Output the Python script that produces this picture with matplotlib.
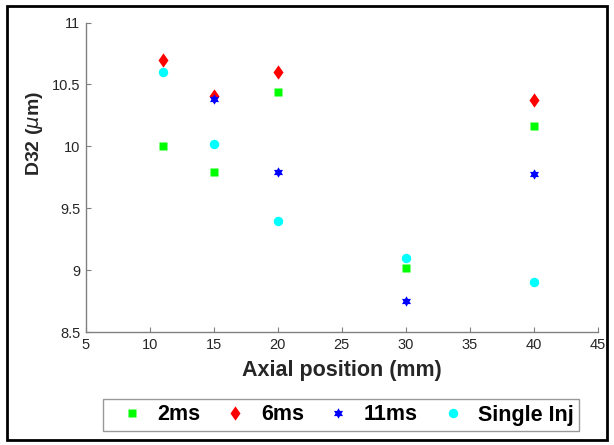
import numpy as np
import matplotlib
matplotlib.use("Agg")
import matplotlib.pyplot as plt
from matplotlib.path import Path
from matplotlib.patches import Rectangle

plt.rcParams['font.family'] = ['Liberation Sans', 'DejaVu Sans']
plt.rcParams['mathtext.fontset'] = 'dejavusans'

# D32 droplet diameter vs axial position, per injection strategy
x_2ms = [11, 15, 20, 30, 40]
d32_2ms = [10.00, 9.79, 10.44, 9.02, 10.16]

x_6ms = [11, 15, 20, 40]
d32_6ms = [10.70, 10.41, 10.60, 10.37]

x_11ms = [15, 20, 30, 40]
d32_11ms = [10.38, 9.79, 8.75, 9.78]

x_single = [11, 15, 20, 30, 40]
d32_single = [10.60, 10.02, 9.40, 9.10, 8.90]

series_labels = ['2ms', '6ms', '11ms', 'Single Inj']
x_ticks = [5, 10, 15, 20, 25, 30, 35, 40, 45]
y_ticks = [8.5, 9, 9.5, 10, 10.5, 11]

# six-pointed star (hexagram) marker
ang_out = np.deg2rad(90 + np.arange(6) * 60)
ang_in = ang_out + np.deg2rad(30)
r_in = 1 / np.sqrt(3)
verts = []
for a, b in zip(ang_out, ang_in):
    verts.append((np.cos(a), np.sin(a)))
    verts.append((r_in * np.cos(b), r_in * np.sin(b)))
verts.append(verts[0])
codes = [Path.MOVETO] + [Path.LINETO] * 11 + [Path.CLOSEPOLY]
hexagram = Path(verts, codes)

# slightly narrow diamond marker
diamond = Path([(0, 1), (0.7, 0), (0, -1), (-0.7, 0), (0, 1)],
               [Path.MOVETO, Path.LINETO, Path.LINETO, Path.LINETO, Path.CLOSEPOLY])

W, H = 614, 445
fig = plt.figure(figsize=(W / 100, H / 100), dpi=100)
ax = fig.add_axes([86 / W, 1 - 332 / H, (597.5 - 86) / W, (332 - 22.5) / H])

ax.plot(x_2ms, d32_2ms, 's', color='#00ff00', ms=6, mec='none', label=series_labels[0])
ax.plot(x_6ms, d32_6ms, marker=diamond, ls='none', color='#ff0000', ms=10.3, mec='none', label=series_labels[1])
ax.plot(x_11ms, d32_11ms, marker=hexagram, ls='none', color='#0000ff', ms=7.5, mec='none', label=series_labels[2])
ax.plot(x_single, d32_single, 'o', color='#00ffff', ms=6.8, mec='none', label=series_labels[3])

ax.set_xlim(5, 45)
ax.set_ylim(8.5, 11)
ax.set_xticks(x_ticks)
ax.set_yticks(y_ticks)
ax.set_xticklabels([f'{v:g}' for v in x_ticks])
ax.set_yticklabels([f'{v:g}' for v in y_ticks])

for s in ['top', 'right']:
    ax.spines[s].set_visible(False)
for s in ['left', 'bottom']:
    ax.spines[s].set_color('#808080')
    ax.spines[s].set_linewidth(1.0)
ax.tick_params(direction='in', length=3.5, width=0.8, color='#808080',
               labelsize=10.5, labelcolor='#262626', pad=4)

ax.set_xlabel('Axial position (mm)', fontsize=15.5, fontweight='bold', color='#262626', labelpad=6)
ax.set_ylabel(r'D32 ($\mu$m)', fontsize=14, fontweight='bold', color='#262626')
ax.yaxis.set_label_coords(-0.08, 0.64)

leg = fig.legend(loc='center', bbox_to_anchor=(341 / W, 1 - 415 / H), ncol=4,
                 prop={'size': 15.5, 'weight': 'bold'}, frameon=True, fancybox=False,
                 edgecolor='#808080', handlelength=2.2, handletextpad=0.1,
                 columnspacing=0.5, borderpad=0.25, borderaxespad=0)
leg.get_frame().set_linewidth(1.0)

# black frame around the whole figure
fig.patches.append(Rectangle((7 / W, 1 - 440 / H), (607 - 7) / W, (440 - 6) / H,
                             transform=fig.transFigure, fill=False,
                             edgecolor='black', linewidth=2.0))

fig.savefig('out.png', dpi=100)
